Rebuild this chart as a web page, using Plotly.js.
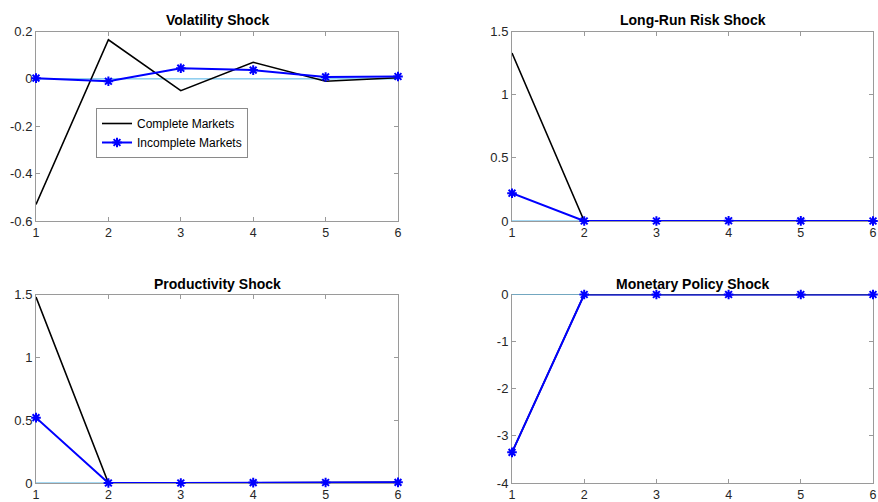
<!DOCTYPE html>
<html><head><meta charset="utf-8">
<script src="https://cdn.plot.ly/plotly-3.0.1.min.js"></script>
<style>html,body{margin:0;padding:0;background:#fff}#chart{width:878px;height:502px}</style>
</head><body><div id="chart"></div>
<script>
const periods = [1, 2, 3, 4, 5, 6];
const titles = ["Volatility Shock", "Long-Run Risk Shock", "Productivity Shock", "Monetary Policy Shock"];
const seriesNames = ["Complete Markets", "Incomplete Markets"];

const volComplete = [-0.53, 0.165, -0.05, 0.07, -0.01, 0.005];
const volIncomplete = [0.003, -0.01, 0.045, 0.037, 0.008, 0.01];
const lrrComplete = [1.33, 0.0, 0.0, 0.002, 0.0, 0.0];
const lrrIncomplete = [0.22, 0.0, 0.0, 0.002, 0.001, 0.0];
const prodComplete = [1.48, 0.0, 0.0, 0.003, 0.004, 0.005];
const prodIncomplete = [0.52, 0.0, 0.0, 0.003, 0.004, 0.005];
const monComplete = [-3.35, 0.0, 0.0, 0.0, 0.0, 0.0];
const monIncomplete = [-3.35, 0.0, 0.0, 0.0, 0.0, 0.0];
const zeroLine = [0, 0, 0, 0, 0, 0];

const volTicks = [-0.6, -0.4, -0.2, 0, 0.2];
const volTickText = ["-0.6", "-0.4", "-0.2", "0", "0.2"];
const lrrTicks = [0, 0.5, 1, 1.5];
const lrrTickText = ["0", "0.5", "1", "1.5"];
const prodTicks = [0, 0.5, 1, 1.5];
const prodTickText = ["0", "0.5", "1", "1.5"];
const monTicks = [-4, -3, -2, -1, 0];
const monTickText = ["-4", "-3", "-2", "-1", "0"];

const panels = [
  {c: volComplete, i: volIncomplete, ticks: volTicks, text: volTickText, range: [-0.6, 0.2]},
  {c: lrrComplete, i: lrrIncomplete, ticks: lrrTicks, text: lrrTickText, range: [0, 1.5]},
  {c: prodComplete, i: prodIncomplete, ticks: prodTicks, text: prodTickText, range: [0, 1.5]},
  {c: monComplete, i: monIncomplete, ticks: monTicks, text: monTickText, range: [-4, 0]}
];

const xDom = [[36/878, 398/878], [512/878, 873/878]];
const yDom = [[1-221/502, 1-31.5/502], [1-483/502, 1-294.5/502]];

const font = {family: "Liberation Sans, Arial, sans-serif", size: 13, color: "#262626"};
const xfont = {family: "Liberation Sans, Arial, sans-serif", size: 12.5, color: "#262626"};
const traces = [];
const layout = {
  width: 878, height: 502,
  margin: {l: 0, r: 0, t: 0, b: 0},
  paper_bgcolor: "#fff", plot_bgcolor: "#fff",
  font: font,
  showlegend: true,
  legend: {
    x: 96/878, y: 1-108/502, xanchor: "left", yanchor: "top",
    bordercolor: "#8a8a8a", borderwidth: 1, bgcolor: "#fff",
    font: {family: "Liberation Sans, Arial, sans-serif", size: 12, color: "#000"},
    tracegroupgap: 0, itemwidth: 30
  },
  annotations: []
};

panels.forEach((p, k) => {
  const ax = k === 0 ? "" : String(k + 1);
  const xa = "x" + ax, ya = "y" + ax;
  traces.push({x: periods, y: zeroLine, xaxis: xa, yaxis: ya, mode: "lines",
    line: {color: "#4DB3E6", width: 1}, showlegend: false, hoverinfo: "skip"});
  traces.push({x: periods, y: p.c, xaxis: xa, yaxis: ya, mode: "lines", name: seriesNames[0],
    line: {color: "#000000", width: 1.6}, showlegend: k === 0, cliponaxis: false});
  traces.push({x: periods, y: p.i, xaxis: xa, yaxis: ya, mode: "lines+markers", name: seriesNames[1],
    line: {color: "#0000FF", width: 2},
    marker: {symbol: "asterisk-open", size: 8, color: "#0000FF", line: {color: "#0000FF", width: 2}},
    showlegend: k === 0, cliponaxis: false});
  const col = k % 2, row = Math.floor(k / 2);
  layout["xaxis" + ax] = {
    domain: xDom[col], anchor: ya, range: [1, 6], tickvals: periods, ticktext: periods.map(String),
    showline: true, mirror: "ticks", linecolor: "#9a9a9a", linewidth: 1, layer: "below traces",
    ticks: "inside", ticklen: 4, tickcolor: "#9a9a9a", showgrid: false, zeroline: false,
    tickfont: xfont, fixedrange: true
  };
  layout["yaxis" + ax] = {
    domain: yDom[row], anchor: xa, range: p.range, tickvals: p.ticks, ticktext: p.text,
    showline: true, mirror: "ticks", linecolor: "#9a9a9a", linewidth: 1, layer: "below traces",
    ticks: "inside", ticklen: 4, tickcolor: "#9a9a9a", showgrid: false, zeroline: false,
    tickfont: font, fixedrange: true
  };
  layout.annotations.push({
    text: "<b>" + titles[k] + "</b>", xref: "paper", yref: "paper",
    x: (xDom[col][0] + xDom[col][1]) / 2, y: yDom[row][1], xanchor: "center", yanchor: "bottom",
    yshift: 1, showarrow: false,
    font: {family: "Liberation Sans, Arial, sans-serif", size: 14, color: "#000"}
  });
});

Plotly.newPlot("chart", traces, layout, {staticPlot: true});
</script>
</body></html>
